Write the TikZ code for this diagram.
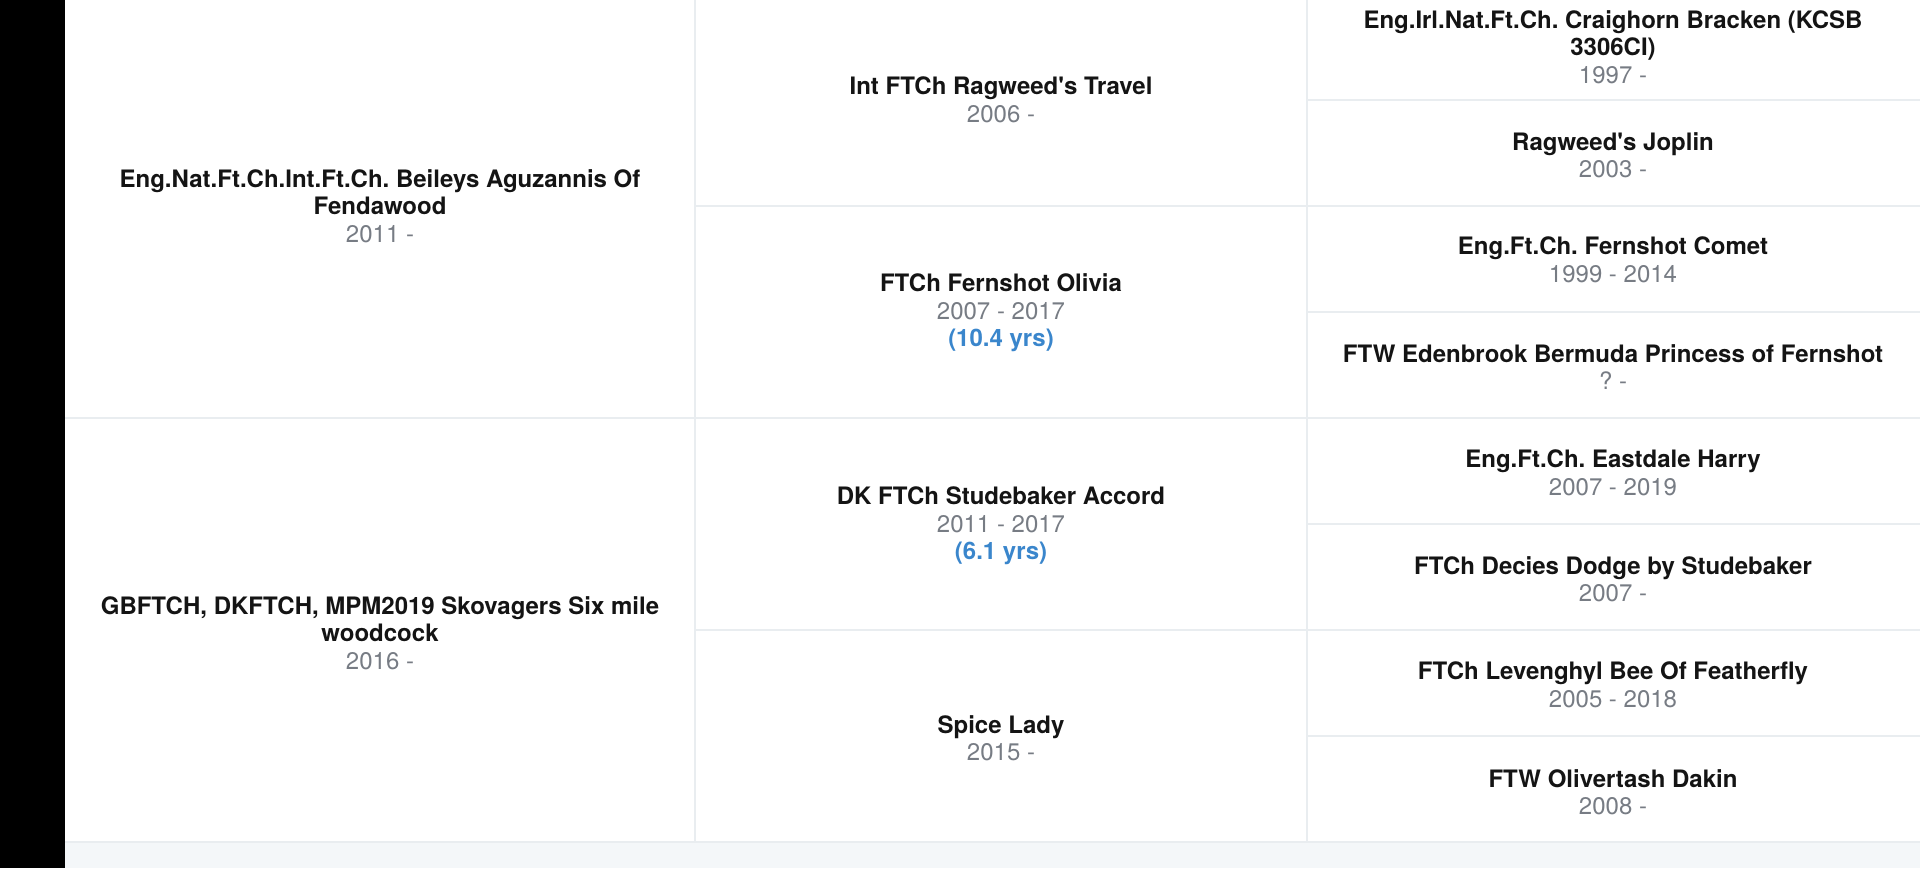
\documentclass[tikz,border=0pt]{standalone}
\usepackage{fontspec}
\newfontfamily\herosfont{TeX Gyre Heros}
\frenchspacing
\definecolor{nametext}{HTML}{141414}
\definecolor{yeartext}{HTML}{777C84}
\definecolor{agetext}{HTML}{3A86CC}
\definecolor{gridline}{HTML}{E9EDF0}
\definecolor{bandfill}{HTML}{F4F7F9}
\tikzset{
  cell/.style={align=center, inner sep=0pt, font=\herosfont\frenchspacing\fontsize{24}{27.5}\selectfont, text=nametext},
  grid/.style={draw=gridline, line width=1.2pt},
}
\newcommand{\nm}[1]{{\bfseries #1}}
\newcommand{\yr}[1]{{\color{yeartext}#1}}
\newcommand{\ag}[1]{{\bfseries\color{agetext}#1}}
\begin{document}
\begin{tikzpicture}[x=1pt,y=-1pt]
\useasboundingbox (0,0) rectangle (1920,868);
\fill[white] (0,0) rectangle (1920,868);
\fill[black] (0,0) rectangle (65,868);
\fill[bandfill] (65,842) rectangle (1920,868);
% grid
\draw[grid] (65,842) -- (1920,842);
\draw[grid] (695,0) -- (695,842);
\draw[grid] (1307,0) -- (1307,842);
\draw[grid] (65,418) -- (1307,418);
\draw[grid] (695,206) -- (1307,206);
\draw[grid] (695,630) -- (1307,630);
\foreach \yy in {100,206,312,418,524,630,736} \draw[grid] (1307,\yy) -- (1920,\yy);
% generation 1
\node[cell] (g1a) at (380,206) {\nm{Eng.Nat.Ft.Ch.Int.Ft.Ch. Beileys Aguzannis Of}\\\nm{Fendawood}\\\yr{2011 -}};
\node[cell] (g1b) at (380,633) {\nm{GBFTCH, DKFTCH, MPM2019 Skovagers Six mile}\\\nm{woodcock}\\\yr{2016 -}};
% generation 2
\node[cell] (g2a) at (1001,100) {\nm{Int FTCh Ragweed's Travel}\\\yr{2006 -}};
\node[cell] (g2b) at (1001,313) {\nm{FTCh Fernshot Olivia}\\\yr{2007 - 2017}\\\ag{(10.4 yrs)}};
\node[cell] (g2c) at (1001,526) {\nm{DK FTCh Studebaker Accord}\\\yr{2011 - 2017}\\\ag{(6.1 yrs)}};
\node[cell] (g2d) at (1001,738) {\nm{Spice Lady}\\\yr{2015 -}};
% generation 3
\node[cell] (g3a) at (1613,47) {\nm{Eng.Irl.Nat.Ft.Ch. Craighorn Bracken (KCSB}\\\nm{3306CI)}\\\yr{1997 -}};
\node[cell] (g3b) at (1613,155) {\nm{Ragweed's Joplin}\\\yr{2003 -}};
\node[cell] (g3c) at (1613,260) {\nm{Eng.Ft.Ch. Fernshot Comet}\\\yr{1999 - 2014}};
\node[cell] (g3d) at (1613,367) {\nm{FTW Edenbrook Bermuda Princess of Fernshot}\\\yr{? -}};
\node[cell] (g3e) at (1613,473) {\nm{Eng.Ft.Ch. Eastdale Harry}\\\yr{2007 - 2019}};
\node[cell] (g3f) at (1613,579) {\nm{FTCh Decies Dodge by Studebaker}\\\yr{2007 -}};
\node[cell] (g3g) at (1613,685) {\nm{FTCh Levenghyl Bee Of Featherfly}\\\yr{2005 - 2018}};
\node[cell] (g3h) at (1613,792) {\nm{FTW Olivertash Dakin}\\\yr{2008 -}};
\end{tikzpicture}
\end{document}
